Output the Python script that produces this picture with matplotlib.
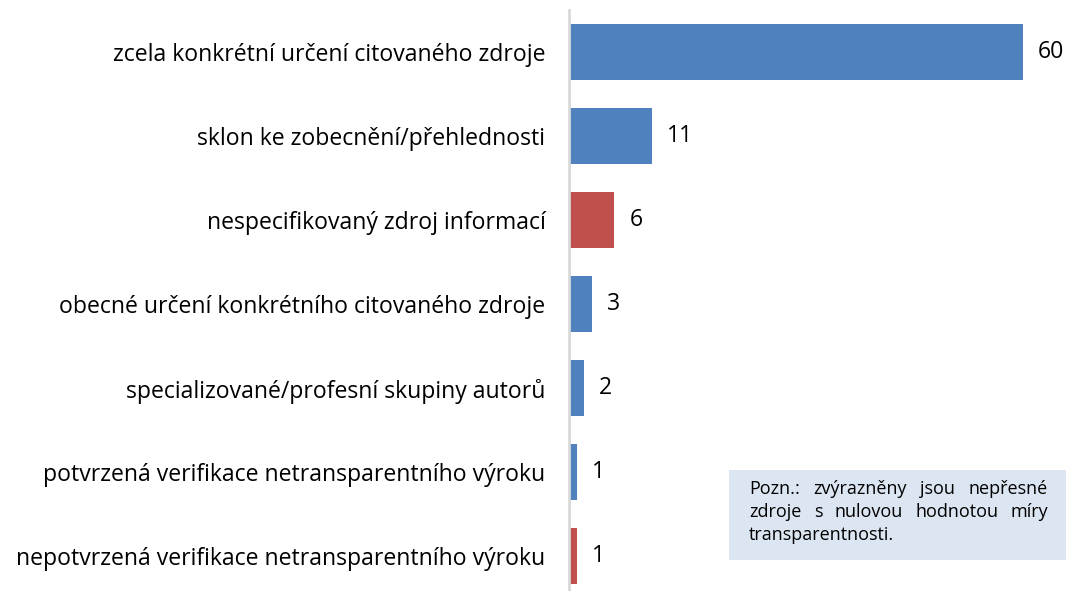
import matplotlib
matplotlib.use("Agg")
import matplotlib.pyplot as plt

categories = [
    "zcela konkrétní určení citovaného zdroje",
    "sklon ke zobecnění/přehlednosti",
    "nespecifikovaný zdroj informací",
    "obecné určení konkrétního citovaného zdroje",
    "specializované/profesní skupiny autorů",
    "potvrzená verifikace netransparentního výroku",
    "nepotvrzená verifikace netransparentního výroku",
]
values = [60, 11, 6, 3, 2, 1, 1]
highlight = [False, False, True, False, False, False, True]
note_lines = [
    "Pozn.: zvýrazněny jsou nepřesné",
    "zdroje s nulovou hodnotou míry",
    "transparentnosti.",
]

BLUE = "#4F81BD"
RED = "#C0504D"
FONT = "Open Sans"

W, H = 1066, 591
fig = plt.figure(figsize=(W / 100, H / 100), dpi=100)

x0 = 569
px_per_unit = (1023 - 569) / 60
xmax = 65
top_px, step = 10, 84
n = len(categories)
bottom_px = top_px + step * n
ax = fig.add_axes([x0 / W, 1 - bottom_px / H, xmax * px_per_unit / W, (bottom_px - top_px) / H])

ypos = list(range(n))
colors = [RED if h else BLUE for h in highlight]
ax.barh(ypos, values, height=0.67, color=colors, zorder=2)
ax.set_ylim(n - 0.5, -0.5)
ax.set_xlim(0, xmax)
ax.set_yticks(ypos)
ax.set_yticklabels(categories, fontsize=16.6, family=FONT, color="#000000")
ax.tick_params(axis="y", length=0, pad=17)
ax.set_xticks([])
for s in ["top", "right", "bottom"]:
    ax.spines[s].set_visible(False)
ax.spines["left"].set_color("#D9D9D9")
ax.spines["left"].set_linewidth(2)

for y, v in zip(ypos, values):
    ax.text(v + 2.0, y, str(v), va="center", ha="left", fontsize=16.6, family=FONT, color="#000000")

bx0, by0, bx1, by1 = 729, 470, 1066, 560
fig.patches.append(plt.Rectangle((bx0 / W, 1 - by1 / H), (bx1 - bx0) / W, (by1 - by0) / H,
                                 transform=fig.transFigure, facecolor="#DCE6F2", edgecolor="none", zorder=0))

fig.canvas.draw()
renderer = fig.canvas.get_renderer()
left_px, right_px = 749, 1048
line_y = [489, 512, 535]
fs_note = 13
for i, line in enumerate(note_lines):
    yf = 1 - line_y[i] / H
    words = line.split(" ")
    if i == len(note_lines) - 1:
        fig.text(left_px / W, yf, line, fontsize=fs_note, family=FONT, va="center", ha="left")
        continue
    widths = []
    for w in words:
        t = fig.text(0, 0, w, fontsize=fs_note, family=FONT)
        widths.append(t.get_window_extent(renderer).width)
        t.remove()
    gap = (right_px - left_px - sum(widths)) / (len(words) - 1)
    x = left_px
    for w, wd in zip(words, widths):
        fig.text(x / W, yf, w, fontsize=fs_note, family=FONT, va="center", ha="left")
        x += wd + gap

fig.savefig("out.png", dpi=100)
